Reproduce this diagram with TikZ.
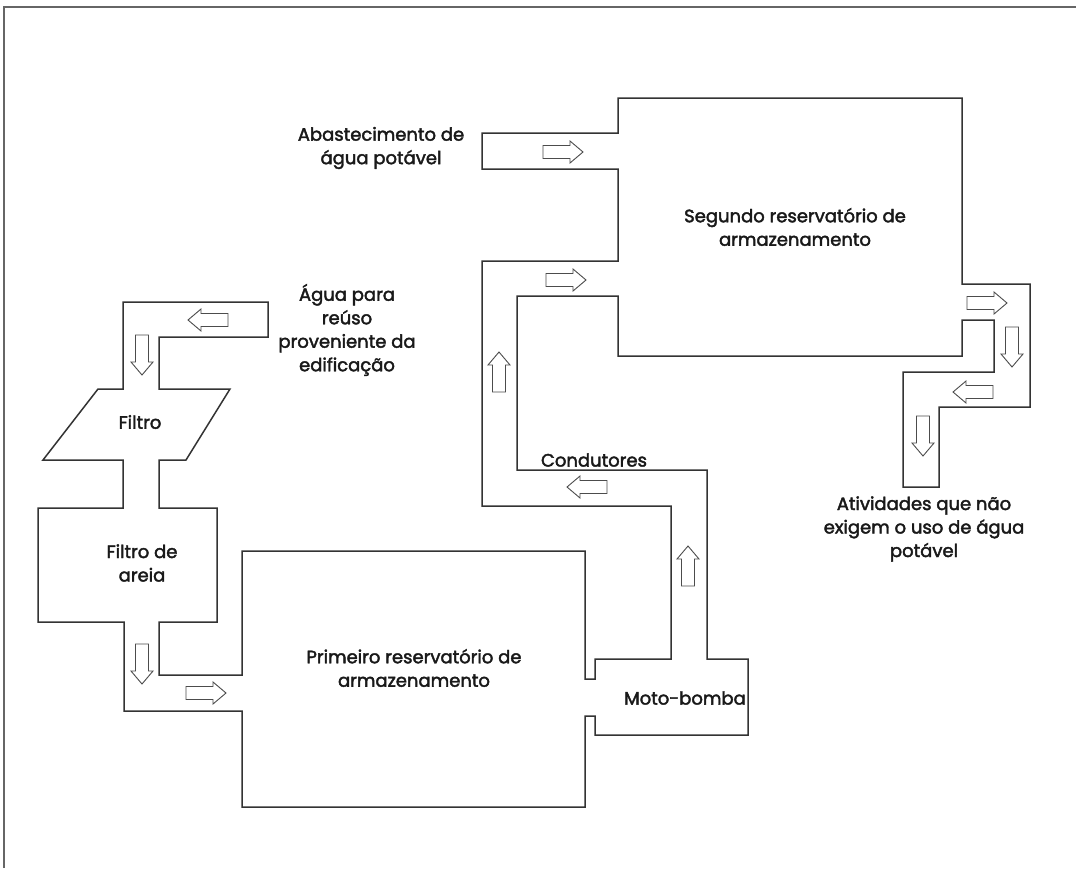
\documentclass[tikz,border=0pt]{standalone}
\usepackage{fontspec}
\setmainfont{Poppins}
\newfontfamily\labelfont{Poppins}[UprightFeatures={FakeBold=2.2}]
\begin{document}
\begin{tikzpicture}[x=0.5pt,y=-0.5pt,
  pipe/.style={draw=black!80, line width=0.75pt, line join=miter},
  frameline/.style={draw=black!60, line width=1pt},
  arrowline/.style={draw=black!70, line width=0.45pt, fill=white},
  label/.style={font=\labelfont\fontsize{9}{11.75}\selectfont, align=center, text=black!90, inner sep=0pt},
  blockarrow/.pic={\draw[arrowline] (-20,-6.5) -- (7,-6.5) -- (7,-11) -- (20,0) -- (7,11) -- (7,6.5) -- (-20,6.5) -- cycle;}]
\useasboundingbox (0,0) rectangle (1076,868);
\fill[white] (0,0) rectangle (1076,868);
% page frame (top and left edges)
\draw[frameline] (4,868) -- (4,7) -- (1076,7);

% pipework, filters, pump housing and both reservoirs as one outline
\draw[pipe] (482,169) -- (482,133) -- (618,133) -- (618,98) -- (962,98) -- (962,284)
  -- (1030,284) -- (1030,407) -- (939,407) -- (939,487) -- (903,487) -- (903,372)
  -- (994,372) -- (994,320) -- (962,320) -- (962,356) -- (618,356) -- (618,296)
  -- (517,296) -- (517,470) -- (707,470) -- (707,659) -- (748,659) -- (748,735)
  -- (595,735) -- (595,716) -- (585,716) -- (585,807) -- (242,807) -- (242,711)
  -- (124,711) -- (124,622) -- (38,622) -- (38,508) -- (123,508) -- (123,460)
  -- (43,460) -- (98,389) -- (123,389) -- (123,302) -- (268,302) -- (268,337)
  -- (159,337) -- (159,389) -- (230,389) -- (186,460) -- (159,460) -- (159,508)
  -- (217,508) -- (217,622) -- (159,622) -- (159,675) -- (242,675) -- (242,551)
  -- (585,551) -- (585,679) -- (595,679) -- (595,659) -- (671,659) -- (671,506)
  -- (482,506) -- (482,261) -- (618,261) -- (618,169) -- cycle;

% flow direction arrows
\pic at (563,152) {blockarrow};
\pic at (566,280) {blockarrow};
\pic[rotate=90] at (499,372) {blockarrow};
\pic[rotate=180] at (587,487) {blockarrow};
\pic[rotate=90] at (688,566) {blockarrow};
\pic at (987,303) {blockarrow};
\pic[rotate=-90] at (1012,347) {blockarrow};
\pic[rotate=180] at (973,392) {blockarrow};
\pic[rotate=-90] at (923,436) {blockarrow};
\pic[rotate=180] at (208,320) {blockarrow};
\pic[rotate=-90] at (142,355) {blockarrow};
\pic[rotate=-90] at (142,664) {blockarrow};
\pic at (206,693) {blockarrow};

% labels
\node[label] (supply) at (381,148) {Abastecimento de\\água potável};
\node[label] (res2) at (795,227) {Segundo reservatório de\\armazenamento};
\node[label] (reuse) at (347,330) {Água para\\reúso\\proveniente da\\edificação};
\node[label] (filter) at (140,422) {Filtro};
\node[label] (sand) at (142,563) {Filtro de\\areia};
\node[label] (res1) at (414,668) {Primeiro reservatório de\\armazenamento};
\node[label] (cond) at (594,460) {Condutores};
\node[label] (pump) at (685,698) {Moto-bomba};
\node[label] (use) at (924,529) {Atividades que não\\exigem o uso de água\\potável};
\end{tikzpicture}
\end{document}
